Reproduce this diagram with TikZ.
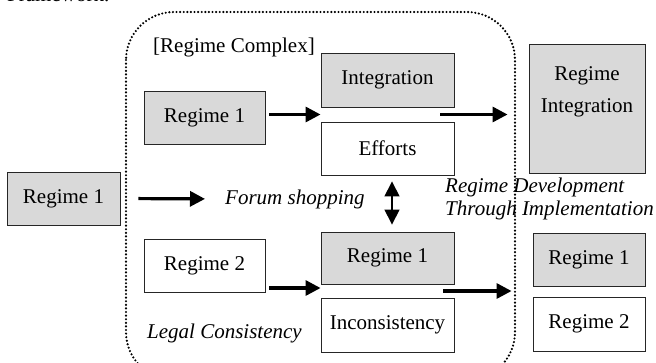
\documentclass[tikz,border=0pt]{standalone}
\usepackage{fontspec}
\setmainfont{Liberation Serif}
\usetikzlibrary{arrows.meta,calc}
\definecolor{boxgrey}{RGB}{217,217,217}
\begin{document}
\begin{tikzpicture}[x=1pt,y=-1pt,
  txt/.style={font=\fontsize{21}{25}\selectfont},
  box/.style={draw=black!85, line width=0.9pt, inner sep=0pt, txt},
  gbox/.style={box, fill=boxgrey},
  wbox/.style={box, fill=white},
  itl/.style={inner sep=0pt, font=\fontsize{21}{23}\selectfont\itshape},
  bigarrow/.style={line width=3.2pt, -{Triangle[length=15pt,width=15pt]}},
  dblarrow/.style={line width=1.5pt, {Triangle[length=15pt,width=15pt]}-{Triangle[length=15pt,width=15pt]}},
  frame/.style={line width=2.4pt, dash pattern=on 0pt off 3.6pt, line cap=round}
]
\useasboundingbox (0,0) rectangle (656,362);

% cut-off caption at the top
\node[txt, anchor=base west, inner sep=0pt] (cap) at (7,1) {Framework.};

% dotted regime complex frame
\draw[frame, rounded corners=48pt] (126,12) rectangle (515,380);
\node[txt, anchor=west, inner sep=0pt] (rc) at (153,47) {[Regime Complex]};

% boxes
\node[gbox, minimum width=113, minimum height=53] (L1) at (63.5,198.5) {Regime 1};
\node[gbox, minimum width=121, minimum height=53] (C1) at (204.5,117.5) {Regime 1};
\node[gbox, minimum width=133, minimum height=54] (Integ) at (387.5,80) {Integration};
\node[wbox, minimum width=133, minimum height=53] (Eff) at (387.5,148.5) {Efforts};
\node[gbox, minimum width=116, minimum height=129] (RI) at (587,108.5) {};
\node[inner sep=0pt, align=center, font=\fontsize{21}{32}\selectfont, anchor=north] (RIt) at ([yshift=-23pt]RI.north) {Regime\\Integration};

\node[wbox, minimum width=121, minimum height=53] (R2) at (204.5,265.5) {Regime 2};
\node[gbox, minimum width=133, minimum height=52] (C2) at (387.5,258) {Regime 1};
\node[wbox, minimum width=133, minimum height=54] (Inc) at (387.5,325) {Inconsistency};
\node[gbox, minimum width=112, minimum height=53] (RR1) at (589,259.5) {Regime 1};
\node[wbox, minimum width=112, minimum height=54] (RR2) at (589,324) {Regime 2};

% italic labels
\node[itl, anchor=west] (fs) at (225,199) {Forum shopping};
\node[itl, anchor=west] (lc) at (147,333) {Legal Consistency};
\node[itl, anchor=west, align=left] (rd) at (445,199) {Regime Development\\Through Implementation};

% gap coordinates
\coordinate (gapA) at ($(Integ.south west)!0.5!(Eff.north west)$);
\coordinate (gapAe) at ($(Integ.south east)!0.5!(Eff.north east)$);
\coordinate (gapB) at ($(C2.south west)!0.5!(Inc.north west)$);
\coordinate (gapBe) at ($(C2.south east)!0.5!(Inc.north east)$);
\coordinate (gapR) at ($(RR1.south west)!0.5!(RR2.north west)$);

% arrows
\draw[bigarrow, shorten <=18pt, shorten >=20pt] (L1.east) -- (fs.west);
\draw[bigarrow, shorten <=4pt] (C1.east |- gapA) -- (gapA);
\draw[bigarrow, shorten >=21pt] ([xshift=-14pt]gapAe) -- (RI.west |- gapAe);
\draw[bigarrow, shorten <=4pt] ([yshift=3pt]R2.east |- gapB) -- ([yshift=3pt]gapB);
\draw[bigarrow, shorten >=21pt] ([xshift=-11pt]gapBe) -- (gapR |- gapBe);
\draw[dblarrow] ([xshift=4.5pt,yshift=-6pt]Eff.south) -- ([xshift=4.5pt,yshift=7pt]C2.north);
\end{tikzpicture}
\end{document}
